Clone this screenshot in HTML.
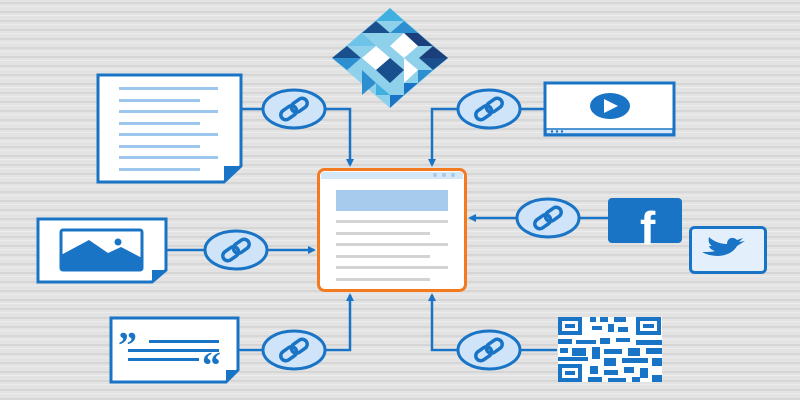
<!DOCTYPE html>
<html><head><meta charset="utf-8"><style>
html,body{margin:0;padding:0;width:800px;height:400px;overflow:hidden;background:#e2e2e2}
</style></head><body>
<svg width="800" height="400" viewBox="0 0 800 400" xmlns="http://www.w3.org/2000/svg">
<defs>
<pattern id="st" width="800" height="9" patternUnits="userSpaceOnUse">
<rect width="800" height="9" fill="#e3e3e3"/>
<rect y="2" width="800" height="2" fill="#d6d6d6"/>
<rect y="6" width="800" height="1" fill="#ececec"/>
</pattern>
<g id="chain">
<g transform="rotate(-35)" fill="none" stroke="#1a74c6" stroke-width="3.5">
<rect x="-15" y="-5" width="17" height="10" rx="5"/>
<rect x="-2" y="-5" width="17" height="10" rx="5"/>
</g>
</g>
<g id="link">
<ellipse cx="0" cy="0" rx="31" ry="19" fill="#cfe4f8" stroke="#1a74c6" stroke-width="3"/>
<use href="#chain"/>
</g>
<marker id="ar" markerWidth="8" markerHeight="8" refX="6" refY="4" orient="auto" markerUnits="userSpaceOnUse">
<path d="M0,0 L8,4 L0,8 z" fill="#1a74c6"/>
</marker>
</defs>
<rect width="800" height="400" fill="url(#st)"/>

<g stroke="#1a74c6" stroke-width="2.5" fill="none">
<path d="M242,109 H262"/>
<path d="M325,109 H350 V165" marker-end="url(#ar)"/>
<path d="M544,109 H520"/>
<path d="M458,109 H432 V165" marker-end="url(#ar)"/>
<path d="M167,250 H205"/>
<path d="M267,250 H314" marker-end="url(#ar)"/>
<path d="M608,218 H579"/>
<path d="M517,218 H470" marker-end="url(#ar)"/>
<path d="M238,350 H262"/>
<path d="M325,350 H350 V295" marker-end="url(#ar)"/>
<path d="M557,350 H520"/>
<path d="M458,350 H432 V295" marker-end="url(#ar)"/>
</g>

<g transform="translate(390,58)">
<polygon points="0,-50 58,0 0,50 -58,0" fill="#8fd0ea"/>
<polygon points="0,-50 -14,-37 14,-37" fill="#3fb0e0"/>
<polygon points="-14,-37 -28,-25 0,-25" fill="#1a4f8e"/>
<polygon points="14,-37 28,-25 0,-25" fill="#2d8fd0"/>
<polygon points="-28,-25 -43,-12 -14,-12" fill="#6ec3e8"/>
<polygon points="28,-25 43,-12 14,-12 14,-25" fill="#1a3f7a"/>
<polygon points="-58,0 -43,-12 -29,0" fill="#1a4f8e"/>
<polygon points="58,0 43,-12 29,0" fill="#1a3f7a"/>
<polygon points="-58,0 -43,12 -29,0" fill="#2d8fd0"/>
<polygon points="58,0 43,12 29,0" fill="#1a4f8e"/>
<polygon points="-14,-12 0,0 -14,12 -28,0" fill="#ffffff"/>
<polygon points="14,-25 28,-12 14,0 0,-12" fill="#ffffff"/>
<polygon points="-14,12 0,25 14,12 0,0" fill="#1a4f8e"/>
<polygon points="14,0 28,12 14,25" fill="#ffffff"/>
<polygon points="-28,12 -14,25 -28,37" fill="#2d8fd0"/>
<polygon points="28,12 43,12 28,25" fill="#2d8fd0"/>
<polygon points="-14,25 0,37 -14,37" fill="#3fb0e0"/>
<polygon points="0,37 14,37 0,50" fill="#1a74c6"/>
<polygon points="14,25 28,25 14,37" fill="#1a74c6"/>
</g>

<rect x="318.5" y="169.5" width="147" height="121" rx="6" fill="#fff" stroke="#f47a1f" stroke-width="3"/>
<rect x="321" y="172" width="142" height="7" fill="#d5e8f8"/>
<circle cx="435" cy="175" r="2" fill="#a9c8e6"/><circle cx="444" cy="175" r="2" fill="#a9c8e6"/><circle cx="453" cy="175" r="2" fill="#a9c8e6"/>
<rect x="336" y="190" width="112" height="21" fill="#a7cbed"/>
<g fill="#d3d3d3">
<rect x="336" y="220" width="112" height="3"/><rect x="336" y="232" width="94" height="3"/>
<rect x="336" y="243" width="112" height="3"/><rect x="336" y="255" width="94" height="3"/>
<rect x="336" y="266" width="112" height="3"/><rect x="336" y="278" width="94" height="3"/>
</g>

<path d="M98,75 H241 V166 L224,182 H98 Z" fill="#fff" stroke="#1a74c6" stroke-width="3"/>
<path d="M224,182 L241,166 H224 Z" fill="#1a74c6"/>
<g fill="#9dc6ec">
<rect x="119" y="87" width="99" height="3"/><rect x="119" y="99" width="81" height="3"/>
<rect x="119" y="110" width="99" height="3"/><rect x="119" y="122" width="81" height="3"/>
<rect x="119" y="133" width="99" height="3"/><rect x="119" y="145" width="81" height="3"/>
<rect x="119" y="156" width="99" height="3"/><rect x="119" y="168" width="81" height="3"/>
</g>

<path d="M38,219 H166 V270 L152,282 H38 Z" fill="#fff" stroke="#1a74c6" stroke-width="3"/>
<path d="M152,282 L166,270 H152 Z" fill="#1a74c6"/>
<rect x="61" y="230" width="81" height="40" rx="2" fill="#fff" stroke="#1a74c6" stroke-width="3"/>
<path d="M61,255 L89,240 L108,253 L121,247 L142,258 V270 H61 Z" fill="#1a74c6"/>
<circle cx="118" cy="242" r="3.5" fill="#1a74c6"/>

<path d="M111,318 H238 V370 L226,382 H111 Z" fill="#fff" stroke="#1a74c6" stroke-width="3"/>
<path d="M226,382 L238,370 H226 Z" fill="#1a74c6"/>
<text x="118" y="358" font-family="Liberation Serif, serif" font-size="38" font-weight="bold" fill="#1a74c6">”</text>
<text x="202" y="378" font-family="Liberation Serif, serif" font-size="38" font-weight="bold" fill="#1a74c6">“</text>
<rect x="149" y="340" width="70" height="3" fill="#1a74c6"/>
<rect x="128" y="349" width="91" height="3" fill="#1a74c6"/>
<rect x="128" y="358" width="71" height="3" fill="#1a74c6"/>

<rect x="545" y="83" width="129" height="52" fill="#fff" stroke="#1a74c6" stroke-width="3"/>
<rect x="546" y="129" width="127" height="5" fill="#d8eafa" stroke="#1a74c6" stroke-width="1.5"/>
<circle cx="552" cy="131.5" r="1.2" fill="#1a74c6"/><circle cx="557" cy="131.5" r="1.2" fill="#1a74c6"/><circle cx="562" cy="131.5" r="1.2" fill="#1a74c6"/>
<ellipse cx="610" cy="106" rx="20" ry="13" fill="#1a74c6"/>
<path d="M604,99 L618,106 L604,113 Z" fill="#fff"/>

<rect x="608" y="198" width="74" height="45" rx="4" fill="#1a74c6"/>
<text x="640" y="244" font-family="Liberation Sans, sans-serif" font-size="46" font-weight="bold" fill="#fff">f</text>

<rect x="690.5" y="227.5" width="75" height="45" rx="4" fill="#e3f0fc" stroke="#1a74c6" stroke-width="3"/>
<path d="M702,252 C712,258 730,258 737,246 L745,241 L739,242 L743,238 L737,240 C733,236 727,238 727,244 C720,244 713,241 709,237 C708,241 709,244 712,246 L709,246 C710,249 712,250 715,251 C712,252 707,252 702,252 Z" fill="#1a74c6"/>

<g fill="#1a74c6">
<rect x="558" y="317" width="104" height="65" fill="#fff"/>
<rect x="558" y="317" width="24" height="18"/><rect x="562" y="321" width="16" height="10" fill="#fff"/><rect x="565" y="324" width="10" height="4"/>
<rect x="636" y="317" width="25" height="18"/><rect x="640" y="321" width="17" height="10" fill="#fff"/><rect x="643" y="324" width="11" height="4"/>
<rect x="558" y="364" width="24" height="18"/><rect x="562" y="368" width="16" height="10" fill="#fff"/><rect x="565" y="371" width="10" height="4"/>
<rect x="590" y="317" width="6" height="5"/><rect x="600" y="317" width="8" height="5"/><rect x="614" y="317" width="12" height="5"/>
<rect x="592" y="326" width="10" height="4"/><rect x="608" y="324" width="6" height="8"/><rect x="618" y="327" width="10" height="5"/>
<rect x="558" y="339" width="14" height="5"/><rect x="576" y="340" width="20" height="4"/><rect x="600" y="338" width="10" height="6"/><rect x="616" y="338" width="14" height="4"/><rect x="636" y="340" width="26" height="5"/>
<rect x="560" y="348" width="8" height="5"/><rect x="572" y="348" width="14" height="8"/><rect x="592" y="347" width="8" height="12"/><rect x="604" y="349" width="18" height="5"/><rect x="628" y="348" width="12" height="8"/><rect x="646" y="348" width="16" height="6"/>
<rect x="558" y="357" width="30" height="4"/><rect x="604" y="358" width="12" height="8"/><rect x="622" y="358" width="26" height="5"/><rect x="652" y="358" width="10" height="8"/>
<rect x="590" y="366" width="8" height="8"/><rect x="604" y="370" width="14" height="5"/><rect x="624" y="367" width="10" height="6"/><rect x="640" y="368" width="8" height="10"/>
<rect x="588" y="377" width="14" height="5"/><rect x="608" y="378" width="18" height="4"/><rect x="632" y="377" width="8" height="5"/><rect x="652" y="375" width="10" height="7"/>
</g>

<use href="#link" x="294" y="109"/>
<use href="#link" x="489" y="109"/>
<use href="#link" x="236" y="250"/>
<use href="#link" x="548" y="218"/>
<use href="#link" x="294" y="350"/>
<use href="#link" x="489" y="350"/>
</svg>
</body></html>
